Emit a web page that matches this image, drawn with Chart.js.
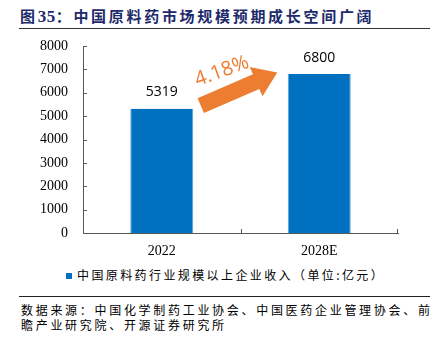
<!DOCTYPE html>
<html>
<head>
<meta charset="utf-8">
<script src="https://cdn.jsdelivr.net/npm/chart.js@4.4.0/dist/chart.umd.min.js"></script>
<style>
  body { margin: 0; width: 433px; height: 338px; background: #fff; position: relative; overflow: hidden; font-family: "Noto Sans CJK SC", sans-serif; }
  #title { position: absolute; left: 20px; top: 6px; font-size: 15px; font-weight: bold; color: #1d2a6b; letter-spacing: 2.7px; line-height: 20px; white-space: nowrap; }
  #title .num { font-family: "Liberation Serif", serif; font-size: 17px; letter-spacing: 0.5px; }
  #rule1 { position: absolute; left: 19px; top: 28px; width: 411px; height: 1px; background: #333; }
  #wrap { position: absolute; left: 0; top: 0; width: 433px; height: 262px; }
  #legend { position: absolute; left: 66px; top: 266px; height: 18px; line-height: 18px; font-size: 12px; letter-spacing: 2.4px; color: #000; white-space: nowrap; }
  #legend .box { display: inline-block; width: 6px; height: 6px; background: #0070C0; margin-right: 5px; vertical-align: 1px; }
  #rule2 { position: absolute; left: 19px; top: 296px; width: 411px; height: 1px; background: #222; }
  #source { position: absolute; left: 21px; top: 303px; width: 420px; font-size: 12px; line-height: 14.5px; letter-spacing: 2.7px; color: #000; white-space: nowrap; }
</style>
</head>
<body>
<div id="title">图<span class="num">35</span>：中国原料药市场规模预期成长空间广阔</div>
<div id="rule1"></div>
<div id="wrap"><canvas id="myChart"></canvas></div>
<div id="legend"></div>
<div id="rule2"></div>
<div id="source">数据来源：中国化学制药工业协会、中国医药企业管理协会、前<br>瞻产业研究院、开源证券研究所</div>
<script>
let categorias = ['2022', '2028E'];
let ingresos = [5319, 6800];
let serieNombre = '中国原料药行业规模以上企业收入（单位:亿元）';
let crecimiento = '4.18%';
let ticksY = [0, 1000, 2000, 3000, 4000, 5000, 6000, 7000, 8000];

document.getElementById('legend').innerHTML = '<span class="box"></span>' + serieNombre;

let colorEje = '#595959';

// marcas de los ejes hacia dentro
let marcas = {
  id: 'marcas',
  afterDraw(chart) {
    let ctx = chart.ctx;
    let xs = chart.scales.x, ys = chart.scales.y;
    let a = chart.chartArea;
    ctx.save();
    ctx.strokeStyle = colorEje;
    ctx.lineWidth = 1;
    ctx.beginPath();
    ticksY.forEach(v => {
      if (v === 0) return;
      let py = Math.round(ys.getPixelForValue(v)) + 0.5;
      ctx.moveTo(a.left, py);
      ctx.lineTo(a.left + 4, py);
    });
    let medio = Math.round((xs.getPixelForValue(0) + xs.getPixelForValue(1)) / 2) + 0.5;
    let fin = Math.round(a.right) - 0.5;
    [medio, fin].forEach(px => {
      ctx.moveTo(px, a.bottom);
      ctx.lineTo(px, a.bottom - 4);
    });
    ctx.stroke();
    ctx.restore();
  }
};

// etiquetas de valor y flecha naranja
let etiquetas = {
  id: 'etiquetas',
  afterDatasetsDraw(chart) {
    let ctx = chart.ctx;
    let meta = chart.getDatasetMeta(0);
    ctx.save();
    ctx.font = '14px "Open Sans"';
    ctx.fillStyle = '#000';
    ctx.textAlign = 'center';
    ctx.textBaseline = 'middle';
    meta.data.forEach((bar, i) => {
      ctx.fillText(String(ingresos[i]), bar.x, bar.y - 16.5);
    });

    let xs = chart.scales.x, ys = chart.scales.y;
    let x0 = xs.getPixelForValue(0) + 39, y0 = ys.getPixelForValue(5450);
    let x1 = xs.getPixelForValue(1) - 42, y1 = ys.getPixelForValue(6870);
    let ang = Math.atan2(y1 - y0, x1 - x0);
    let largo = Math.hypot(x1 - x0, y1 - y0);
    ctx.translate(x0, y0);
    ctx.rotate(ang);
    ctx.fillStyle = '#ED7D31';
    ctx.beginPath();
    ctx.moveTo(0, -8);
    ctx.lineTo(largo - 23, -8);
    ctx.lineTo(largo - 23, -16);
    ctx.lineTo(largo, 0);
    ctx.lineTo(largo - 23, 16);
    ctx.lineTo(largo - 23, 8);
    ctx.lineTo(0, 8);
    ctx.closePath();
    ctx.fill();
    ctx.translate(33, -23);
    ctx.rotate(0.06);
    ctx.font = '20px "Open Sans"';
    ctx.fillText(crecimiento, 0, 0);
    ctx.restore();
  }
};

let ctx = document.getElementById('myChart').getContext('2d');
let chart = new Chart(ctx, {
  type: 'bar',
  data: {
    labels: categorias,
    datasets: [{
      label: serieNombre,
      data: ingresos,
      backgroundColor: '#0070C0',
      borderColor: '#5AA0DC',
      borderWidth: { left: 1, right: 1, top: 0, bottom: 0 },
      borderSkipped: false,
      categoryPercentage: 1,
      barPercentage: 0.4
    }]
  },
  options: {
    responsive: true,
    maintainAspectRatio: false,
    animation: false,
    layout: { padding: { left: 0, right: 35, top: 46, bottom: 0 } },
    plugins: { legend: { display: false }, tooltip: { enabled: false } },
    scales: {
      x: {
        grid: { display: false, drawTicks: false },
        border: { display: true, color: colorEje, width: 1 },
        ticks: { color: '#000', font: { family: '"Liberation Serif"', size: 14 }, padding: 10 },
        afterFit(scale) { scale.height = 29; }
      },
      y: {
        min: 0,
        max: 8000,
        grid: { display: false, drawTicks: false },
        border: { display: true, color: colorEje, width: 1 },
        ticks: {
          stepSize: 1000,
          color: '#000',
          font: { family: '"Liberation Serif"', size: 14 },
          padding: 15,
          callback: v => String(v)
        },
        afterFit(scale) { scale.width = 83; }
      }
    }
  },
  plugins: [marcas, etiquetas]
});
</script>
</body>
</html>
